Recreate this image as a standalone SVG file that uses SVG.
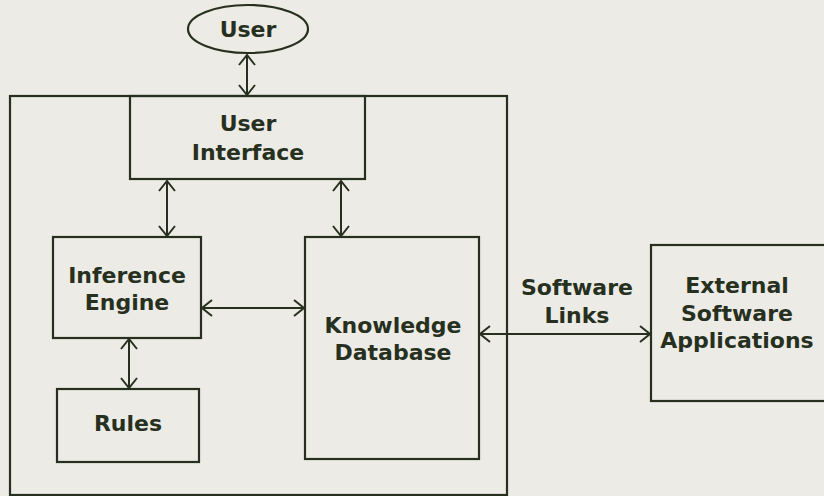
<svg xmlns="http://www.w3.org/2000/svg" width="824" height="496" viewBox="0 0 824 496">
<defs>
<style>
.box{fill:none;stroke:#27301f;stroke-width:2.2}
.ln{fill:none;stroke:#27301f;stroke-width:2}
.t{font-family:"DejaVu Sans",Verdana,sans-serif;font-weight:bold;font-size:22px;fill:#27301f;text-anchor:middle}
</style>
<marker id="arr" viewBox="0 0 12 18" refX="11" refY="9" markerWidth="12" markerHeight="18" markerUnits="userSpaceOnUse" orient="auto-start-reverse">
<path d="M1,1 L11,9 L1,17" fill="none" stroke="#27301f" stroke-width="2"/>
</marker>
</defs>
<rect width="824" height="496" fill="#ecebe5"/>
<g id="system"><rect class="box" x="10" y="96" width="497" height="399"/></g>
<g id="user"><ellipse class="box" cx="248" cy="29" rx="60" ry="24"/><text class="t" x="248" y="37">User</text></g>
<g id="ui"><rect class="box" x="130" y="96" width="235" height="83" fill="#ecebe5"/><text class="t" x="248" y="131">User</text><text class="t" x="248" y="160">Interface</text></g>
<g id="inference"><rect class="box" x="53" y="237" width="148" height="101"/><text class="t" x="127" y="283">Inference</text><text class="t" x="127" y="310">Engine</text></g>
<g id="rules"><rect class="box" x="57" y="389" width="142" height="73"/><text class="t" x="128" y="431">Rules</text></g>
<g id="kd"><rect class="box" x="305" y="237" width="174" height="222"/><text class="t" x="393" y="333">Knowledge</text><text class="t" x="393" y="360">Database</text></g>
<g id="external"><rect class="box" x="651" y="245" width="190" height="156"/><text class="t" x="737" y="293">External</text><text class="t" x="737" y="321">Software</text><text class="t" x="737" y="348">Applications</text></g>
<g id="links-label"><text class="t" x="577" y="295">Software</text><text class="t" x="577" y="323">Links</text></g>
<g id="connectors">
<line class="ln" x1="247" y1="55" x2="247" y2="95" marker-start="url(#arr)" marker-end="url(#arr)"/>
<line class="ln" x1="167" y1="181" x2="167" y2="236" marker-start="url(#arr)" marker-end="url(#arr)"/>
<line class="ln" x1="341" y1="181" x2="341" y2="236" marker-start="url(#arr)" marker-end="url(#arr)"/>
<line class="ln" x1="202" y1="308" x2="304" y2="308" marker-start="url(#arr)" marker-end="url(#arr)"/>
<line class="ln" x1="129" y1="339" x2="129" y2="388" marker-start="url(#arr)" marker-end="url(#arr)"/>
<line class="ln" x1="480" y1="334" x2="650" y2="334" marker-start="url(#arr)" marker-end="url(#arr)"/>
</g>
</svg>
